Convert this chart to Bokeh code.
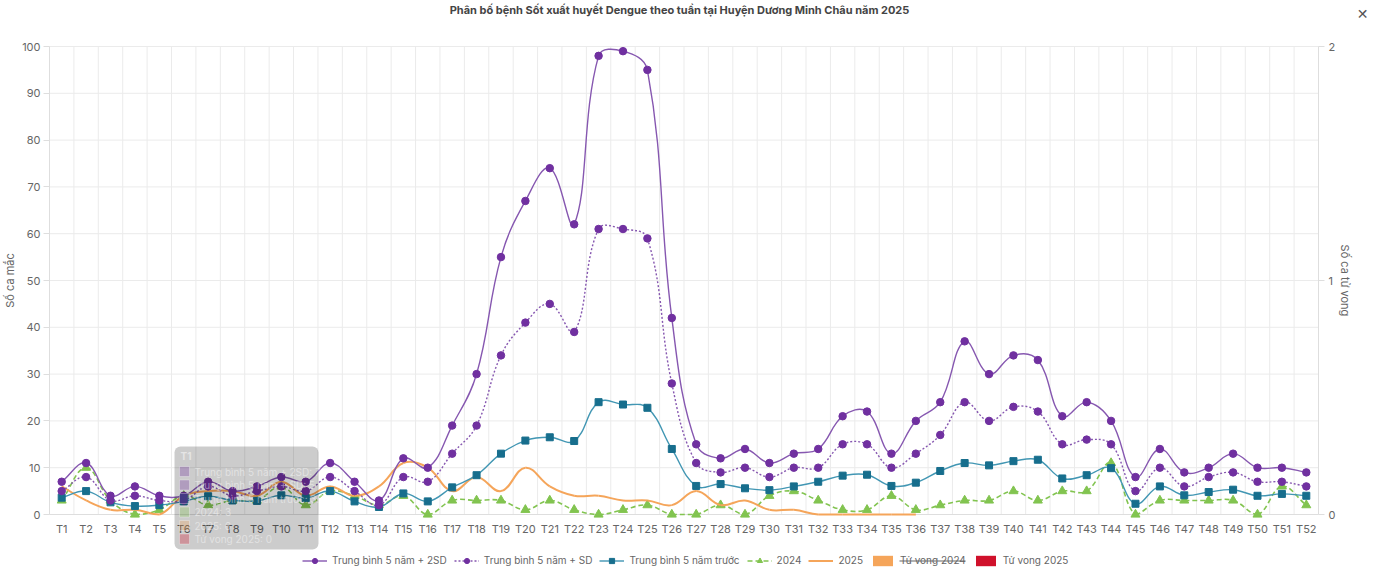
import math
from bokeh.plotting import figure
from bokeh.models import (Range1d, LinearAxis, FixedTicker, Legend, LegendItem,
                          Label, BoxAnnotation)
from bokeh.embed import file_html
from bokeh.resources import INLINE

# ---------------- data ----------------
weeks = ["T1", "T2", "T3", "T4", "T5", "T6", "T7", "T8", "T9", "T10",
         "T11", "T12", "T13", "T14", "T15", "T16", "T17", "T18", "T19", "T20",
         "T21", "T22", "T23", "T24", "T25", "T26", "T27", "T28", "T29", "T30",
         "T31", "T32", "T33", "T34", "T35", "T36", "T37", "T38", "T39", "T40",
         "T41", "T42", "T43", "T44", "T45", "T46", "T47", "T48", "T49", "T50",
         "T51", "T52"]
tb_2sd = [7, 11, 4, 6, 4, 4, 7, 5, 6, 8,
          7, 11, 7, 3, 12, 10, 19, 30, 55, 67,
          74, 62, 98, 99, 95, 42, 15, 12, 14, 11,
          13, 14, 21, 22, 13, 20, 24, 37, 30, 34,
          33, 21, 24, 20, 8, 14, 9, 10, 13, 10,
          10, 9]
tb_sd = [5, 8, 3, 4, 3, 3, 6, 4, 5, 6,
         5, 8, 5, 2, 8, 7, 13, 19, 34, 41,
         45, 39, 61, 61, 59, 28, 11, 9, 10, 8,
         10, 10, 15, 15, 10, 13, 17, 24, 20, 23,
         22, 15, 16, 15, 5, 10, 6, 8, 9, 7,
         7, 6]
tb_5nam = [3.6, 5, 2.6, 1.8, 2, 2.8, 3.9, 3, 2.9, 4.1,
           3.5, 5, 2.8, 1.6, 4.5, 2.8, 5.8, 8.4, 13, 15.8,
           16.5, 15.7, 24, 23.5, 22.8, 14, 6.1, 6.5, 5.6, 5.2,
           6, 7, 8.3, 8.5, 6.1, 6.8, 9.3, 11, 10.5, 11.4,
           11.7, 7.7, 8.4, 9.9, 2.3, 6, 4.1, 4.8, 5.3, 4,
           4.4, 4]
nam_2024 = [3, 10, 3, 0, 1, 4, 2, 3, 3, 6,
            2, 5, 4, 2, 4, 0, 3, 3, 3, 1,
            3, 1, 0, 1, 2, 0, 0, 2, 0, 4,
            5, 3, 1, 1, 4, 1, 2, 3, 3, 5,
            3, 5, 5, 11, 0, 3, 3, 3, 3, 0,
            6, 2]
nam_2025 = [6, 3, 1, 1, 0, 4, 5, 5, 4, 7,
            4, 6, 4, 6, 11, 10, 5, 8, 5, 10,
            6, 4, 4, 3, 3, 2, 5, 2, 3, 1,
            1, 0, 0, 0, 0, 0]
tu_vong_2024 = [0, 0, 0, 0, 0, 0, 0, 0, 0, 0, 0, 0, 0, 0, 0, 0, 0, 0, 0, 0,
                0, 0, 0, 0, 0, 0, 0, 0, 0, 0, 0, 0, 0, 0, 0, 0, 0, 0, 0, 0,
                0, 0, 0, 0, 0, 0, 0, 0, 0, 0, 0, 0]
tu_vong_2025 = [0, 0, 0, 0, 0, 0, 0, 0, 0, 0, 0, 0, 0, 0, 0, 0, 0, 0, 0, 0,
                0, 0, 0, 0, 0, 0, 0, 0, 0, 0, 0, 0, 0, 0, 0, 0]
y_ticks = [0, 10, 20, 30, 40, 50, 60, 70, 80, 90, 100]
death_ticks = [0, 1, 2]

title = "Phân bố bệnh Sốt xuất huyết Dengue theo tuần tại Huyện Dương Minh Châu năm 2025"
names = ["Trung bình 5 năm + 2SD", "Trung bình 5 năm + SD", "Trung bình 5 năm trước",
         "2024", "2025", "Tử vong 2024", "Tử vong 2025"]

# ---------------- style / layout ----------------
FONT = "Inter"
PURPLE = "#7030A0"
PURPLE_LINE = "#8657B0"
TEAL = "#176E8D"
TEAL_LINE = "#4196B3"
GREEN = "#82C450"
ORANGE = "#F5A55A"
RED = "#D0112B"
GRID = "#ebebeb"
AXIS = "#dedede"
TXT = "#666666"

W, H = 1379, 570
# plotting area inside the canvas (pixels)
AL, AR, AT, AB = 49, 1318, 46, 514
YMAX = y_ticks[-1]
DMAX = death_ticks[-1]
NW = len(weeks)
PX_X = (AR - AL) / NW
PX_Y = (AB - AT) / YMAX
X_LO, X_HI = 0.5 - AL / PX_X, NW + 0.5 + (W - AR) / PX_X
Y_LO, Y_HI = -(H - AB) / PX_Y, YMAX + AT / PX_Y

xs = list(range(1, NW + 1))

p = figure(width=W, height=H, x_range=Range1d(X_LO, X_HI), y_range=Range1d(Y_LO, Y_HI),
           output_backend="svg", toolbar_location=None, title=None, min_border=0)
p.extra_y_ranges = {"deaths": Range1d(Y_LO * DMAX / YMAX, Y_HI * DMAX / YMAX)}
p.outline_line_color = None
p.background_fill_color = "white"
p.border_fill_color = "white"
p.grid.visible = False

# grid lines limited to the plotting area
p.segment(x0=[0.5] * len(y_ticks), y0=y_ticks, x1=[NW + 0.5] * len(y_ticks), y1=y_ticks,
          line_color=GRID, line_width=1, level="underlay")
vx = [i + 0.5 for i in range(0, NW + 1)]
p.segment(x0=vx, y0=[0] * len(vx), x1=vx, y1=[YMAX] * len(vx), line_color=GRID,
          line_width=1, level="underlay")

# x axis
xa = p.xaxis[0]
xa.fixed_location = 0
xa.bounds = (0.5, NW + 0.5)
xa.level = "underlay"
xa.ticker = FixedTicker(ticks=xs)
xa.major_label_overrides = {i: w for i, w in zip(xs, weeks)}
xa.major_tick_out = 0
xa.major_tick_in = 0
xa.minor_tick_line_color = None
xa.axis_line_color = AXIS
xa.major_label_standoff = 7
xa.major_label_text_font = FONT
xa.major_label_text_font_size = "11px"
xa.major_label_text_color = TXT

# left axis
ya = p.yaxis[0]
ya.fixed_location = 0.5
ya.bounds = (0, YMAX)
ya.level = "underlay"
ya.ticker = FixedTicker(ticks=y_ticks)
ya.axis_label = "Số ca mắc"
ya.axis_label_text_font = FONT
ya.axis_label_text_font_size = "11px"
ya.axis_label_text_font_style = "normal"
ya.axis_label_text_color = TXT
ya.axis_label_standoff = 2
ya.major_label_standoff = 3
ya.major_tick_out = 6
ya.major_tick_in = 0
ya.minor_tick_line_color = None
ya.axis_line_color = AXIS
ya.major_tick_line_color = AXIS
ya.major_label_text_font = FONT
ya.major_label_text_font_size = "11px"
ya.major_label_text_color = TXT

# right axis (deaths)
ra = LinearAxis(y_range_name="deaths", ticker=FixedTicker(ticks=death_ticks),
                axis_label="Số ca tử vong", fixed_location=NW + 0.5, bounds=(0, DMAX))
ra.level = "underlay"
ra.axis_label_text_font = FONT
ra.axis_label_text_font_size = "11px"
ra.axis_label_text_font_style = "normal"
ra.axis_label_text_color = TXT
ra.axis_label_standoff = 0
ra.major_label_standoff = 4
ra.major_tick_out = 6
ra.major_tick_in = 0
ra.minor_tick_line_color = None
ra.axis_line_color = AXIS
ra.major_tick_line_color = AXIS
ra.major_label_text_font = FONT
ra.major_label_text_font_size = "11px"
ra.major_label_text_color = TXT
p.add_layout(ra, "right")


def bezier_parts(vals, tension=0.4):
    """Chart.js-style tension control points (computed in pixel space)."""
    n = len(vals)
    pts = [(xs[i] * PX_X, vals[i] * PX_Y) for i in range(n)]
    cps = []
    for i in range(n):
        prev = pts[i - 1] if i > 0 else pts[i]
        cur = pts[i]
        nxt = pts[i + 1] if i < n - 1 else pts[i]
        d01 = math.hypot(cur[0] - prev[0], cur[1] - prev[1])
        d12 = math.hypot(nxt[0] - cur[0], nxt[1] - cur[1])
        tot = d01 + d12
        s01 = d01 / tot if tot else 0
        s12 = d12 / tot if tot else 0
        fa, fb = tension * s01, tension * s12
        pc = (cur[0] - fa * (nxt[0] - prev[0]), cur[1] - fa * (nxt[1] - prev[1]))
        nc = (cur[0] + fb * (nxt[0] - prev[0]), cur[1] + fb * (nxt[1] - prev[1]))
        clamp = lambda c: (min(max(c[0], 0.5 * PX_X), (NW + 0.5) * PX_X),
                           min(max(c[1], 0), YMAX * PX_Y))
        cps.append((clamp(pc), clamp(nc)))
    d = dict(x0=[], y0=[], x1=[], y1=[], cx0=[], cy0=[], cx1=[], cy1=[])
    for i in range(n - 1):
        d["x0"].append(xs[i]); d["y0"].append(vals[i])
        d["x1"].append(xs[i + 1]); d["y1"].append(vals[i + 1])
        d["cx0"].append(cps[i][1][0] / PX_X); d["cy0"].append(cps[i][1][1] / PX_Y)
        d["cx1"].append(cps[i + 1][0][0] / PX_X); d["cy1"].append(cps[i + 1][0][1] / PX_Y)
    return d


def series(vals, line_color, width, dash, marker, mcolor, msize):
    d = bezier_parts(vals)
    rs = [p.bezier(x0=d["x0"], y0=d["y0"], x1=d["x1"], y1=d["y1"],
                   cx0=d["cx0"], cy0=d["cy0"], cx1=d["cx1"], cy1=d["cy1"],
                   line_color=line_color, line_width=width, line_dash=dash)]
    if marker:
        rs.append(p.scatter(x=xs[:len(vals)], y=vals, marker=marker, size=msize,
                            fill_color=mcolor, line_color=mcolor))
    return rs


# death bars (right axis)
r_tv24 = p.vbar(x=xs[:len(tu_vong_2024)], top=tu_vong_2024, width=0.6,
                y_range_name="deaths", fill_color=ORANGE, line_color=None)
r_tv25 = p.vbar(x=xs[:len(tu_vong_2025)], top=tu_vong_2025, width=0.6,
                y_range_name="deaths", fill_color=RED, line_color=None)

r_2024 = series(nam_2024, GREEN, 1.6, "5 3", "triangle", GREEN, 9)
r_2025 = series(nam_2025, ORANGE, 2, "solid", None, None, 0)
r_5nam = series(tb_5nam, TEAL_LINE, 1.4, "solid", "square", TEAL, 7)
r_sd = series(tb_sd, PURPLE_LINE, 1.4, "2 2", "circle", PURPLE, 7.5)
r_2sd = series(tb_2sd, PURPLE_LINE, 1.4, "solid", "circle", PURPLE, 7.5)

# ---------------- legend (bottom, screen px from canvas bottom-left) ----------------
LEG_X, LEG_Y = 302, 3.5
legend = Legend(items=[
    LegendItem(label=names[0], renderers=r_2sd),
    LegendItem(label=names[1], renderers=r_sd),
    LegendItem(label=names[2], renderers=r_5nam),
    LegendItem(label=names[3], renderers=r_2024),
    LegendItem(label=names[4], renderers=r_2025),
    LegendItem(label=names[5], renderers=[r_tv24]),
    LegendItem(label=names[6], renderers=[r_tv25]),
], orientation="horizontal", location=(LEG_X, LEG_Y), glyph_width=25, glyph_height=13,
    label_standoff=5, spacing=7, padding=0, margin=0, label_height=13,
    label_text_font=FONT, label_text_font_size="10px", label_text_color=TXT,
    border_line_color=None, background_fill_alpha=0)
p.add_layout(legend)
# strike-through of the hidden "Tử vong 2024" item
p.add_layout(BoxAnnotation(left=LEG_X + 597, right=LEG_X + 663, bottom=LEG_Y + 5.5,
                           top=LEG_Y + 6.5, left_units="screen", right_units="screen",
                           top_units="screen", bottom_units="screen",
                           fill_color=TXT, fill_alpha=1, line_color=None))

# ---------------- title & close button ----------------
p.add_layout(Label(x=679, y=H - 9, x_units="screen", y_units="screen", text=title,
                   text_font=FONT, text_font_size="11px", text_font_style="bold",
                   text_color="#444444", text_align="center", text_baseline="middle"))
p.add_layout(Label(x=1362, y=H - 13, x_units="screen", y_units="screen", text="✕",
                   text_font="DejaVu Sans", text_font_size="14px", text_color="#555555",
                   text_align="center", text_baseline="middle"))

# ---------------- faded hover tooltip ----------------
tip_rows = [(names[0], tb_2sd[0], PURPLE), (names[1], tb_sd[0], PURPLE),
            (names[2], tb_5nam[0], TEAL), (names[3], nam_2024[0], GREEN),
            (names[4], nam_2025[0], ORANGE), (names[6], tu_vong_2025[0], RED)]
p.add_layout(BoxAnnotation(left=174, right=318, top=H - 446, bottom=H - 549,
                           left_units="screen", right_units="screen",
                           top_units="screen", bottom_units="screen",
                           fill_color="black", fill_alpha=0.2, line_color=None,
                           border_radius=6))
p.add_layout(Label(x=180, y=H - 455, x_units="screen", y_units="screen", text=weeks[0],
                   text_font=FONT, text_font_size="10px", text_font_style="bold",
                   text_color="white", text_alpha=0.5, text_baseline="middle"))
for k, (nm, v, c) in enumerate(tip_rows):
    yy = H - (471 + 13.5 * k)
    p.add_layout(BoxAnnotation(left=179, right=189, top=yy + 5, bottom=yy - 5,
                               left_units="screen", right_units="screen",
                               top_units="screen", bottom_units="screen",
                               fill_color=c, fill_alpha=0.3, line_color="white",
                               line_alpha=0.3))
    p.add_layout(Label(x=194, y=yy, x_units="screen", y_units="screen",
                       text=f"{nm}: {v}", text_font=FONT, text_font_size="10px",
                       text_color="white", text_alpha=0.45, text_baseline="middle"))

open("out.html", "w").write(file_html(p, INLINE))
